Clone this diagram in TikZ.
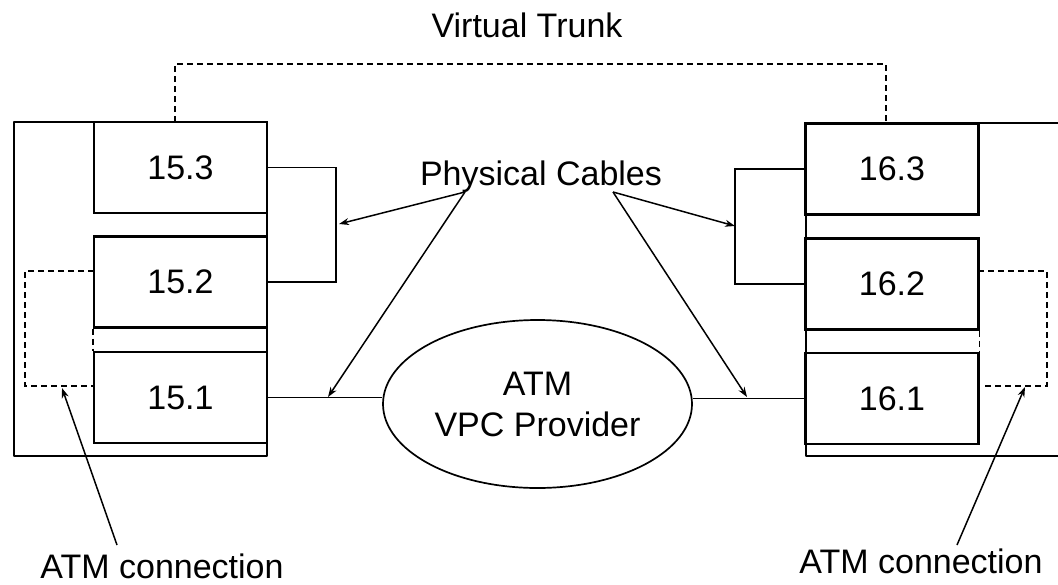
\documentclass[tikz,border=0pt]{standalone}
\usepackage{fontspec}
\setmainfont{Liberation Sans}
\usetikzlibrary{shapes.geometric,arrows.meta}

\begin{document}
\begin{tikzpicture}[x=1pt, y=-1pt,
		every node/.style={font=\fontsize{34}{41}\selectfont},
		card/.style={draw, line width=2.2pt, minimum width=173pt, minimum height=91pt, inner sep=0pt},
		chassis/.style={line width=2.2pt, line join=round},
		cable/.style={line width=1.9pt},
		pointer/.style={line width=1.5pt, -{Stealth[length=10pt,width=7pt]}},
		vlink/.style={line width=1.6pt, dash pattern=on 6pt off 4pt}]
		%%%%% START %%%%%
		
		\useasboundingbox (0,0) rectangle (1058,584);
		
		% switches
		\draw[chassis] (14,122) rectangle (267,456);
		\draw[chassis] (1058,123) -- (806,123) -- (806,456) -- (1058,456);
		
		\node[card] (c153) at (180.5,167.5) {15.3};
		\node[card] (c152) at (180.5,282) {15.2};
		\node[card] (c151) at (180.5,397.5) {15.1};
		\node[card] (c163) at (892,169) {16.3};
		\node[card] (c162) at (892,284) {16.2};
		\node[card] (c161) at (892,398.5) {16.1};
		
		\node[draw, ellipse, line width=1.7pt, minimum width=309pt, minimum height=168pt, inner sep=0pt, align=center] (atm) at (537.5,404) {ATM\\VPC Provider};
		
		% physical cables
		\draw[cable] (c153.east) -- ++(68,0) |- (c152.east);
		\draw[cable] (c163.west) -- ++(-69,0) |- (c162.west);
		\draw[cable] (c151.east) -- (c151.east -| atm.west);
		\draw[cable] (atm.east |- c161.west) -- (c161.west);
		
		\node[anchor=base] (phys) at (541,185) {Physical Cables};
		\coordinate (physL) at (465,192);
		\coordinate (physR) at (613,192);
		\coordinate (lbrk) at (339,224);
		\coordinate (rbrk) at (735,226);
		\coordinate (lcab) at (328,397);
		\coordinate (rcab) at (747,397);
		\draw[pointer] (physL) -- (lbrk);
		\draw[pointer] (physL) -- (lcab);
		\draw[pointer] (physR) -- (rbrk);
		\draw[pointer] (physR) -- (rcab);
		
		% atm connections
		\draw[vlink] (94,271) -- (25,271) -- (25,386) -- (94,386);
		\draw[vlink] (c152.south west) -- (c151.north west);
		\draw[vlink] (978,271) -- (1047,271) -- (1047,386) -- (982,386);
		\draw[vlink] (c162.south east) -- (c161.north east);
		
		\node[anchor=base] (lconn) at (162,578) {ATM connection};
		\node[anchor=base] (rconn) at (921,573) {ATM connection};
		\coordinate (lconT) at (117,545);
		\coordinate (lloop) at (62,388);
		\coordinate (rconT) at (957,545);
		\coordinate (rloop) at (1025,387);
		\draw[pointer] (lconT) -- (lloop);
		\draw[pointer] (rconT) -- (rloop);
		
		% virtual trunk
		\node[anchor=base] (vt) at (527,37) {Virtual Trunk};
		\draw[vlink] (175,122) -- (175,64) -- (886,64) -- (886,123);
		
		%%%%% END %%%%%
	\end{tikzpicture}
\end{document}
